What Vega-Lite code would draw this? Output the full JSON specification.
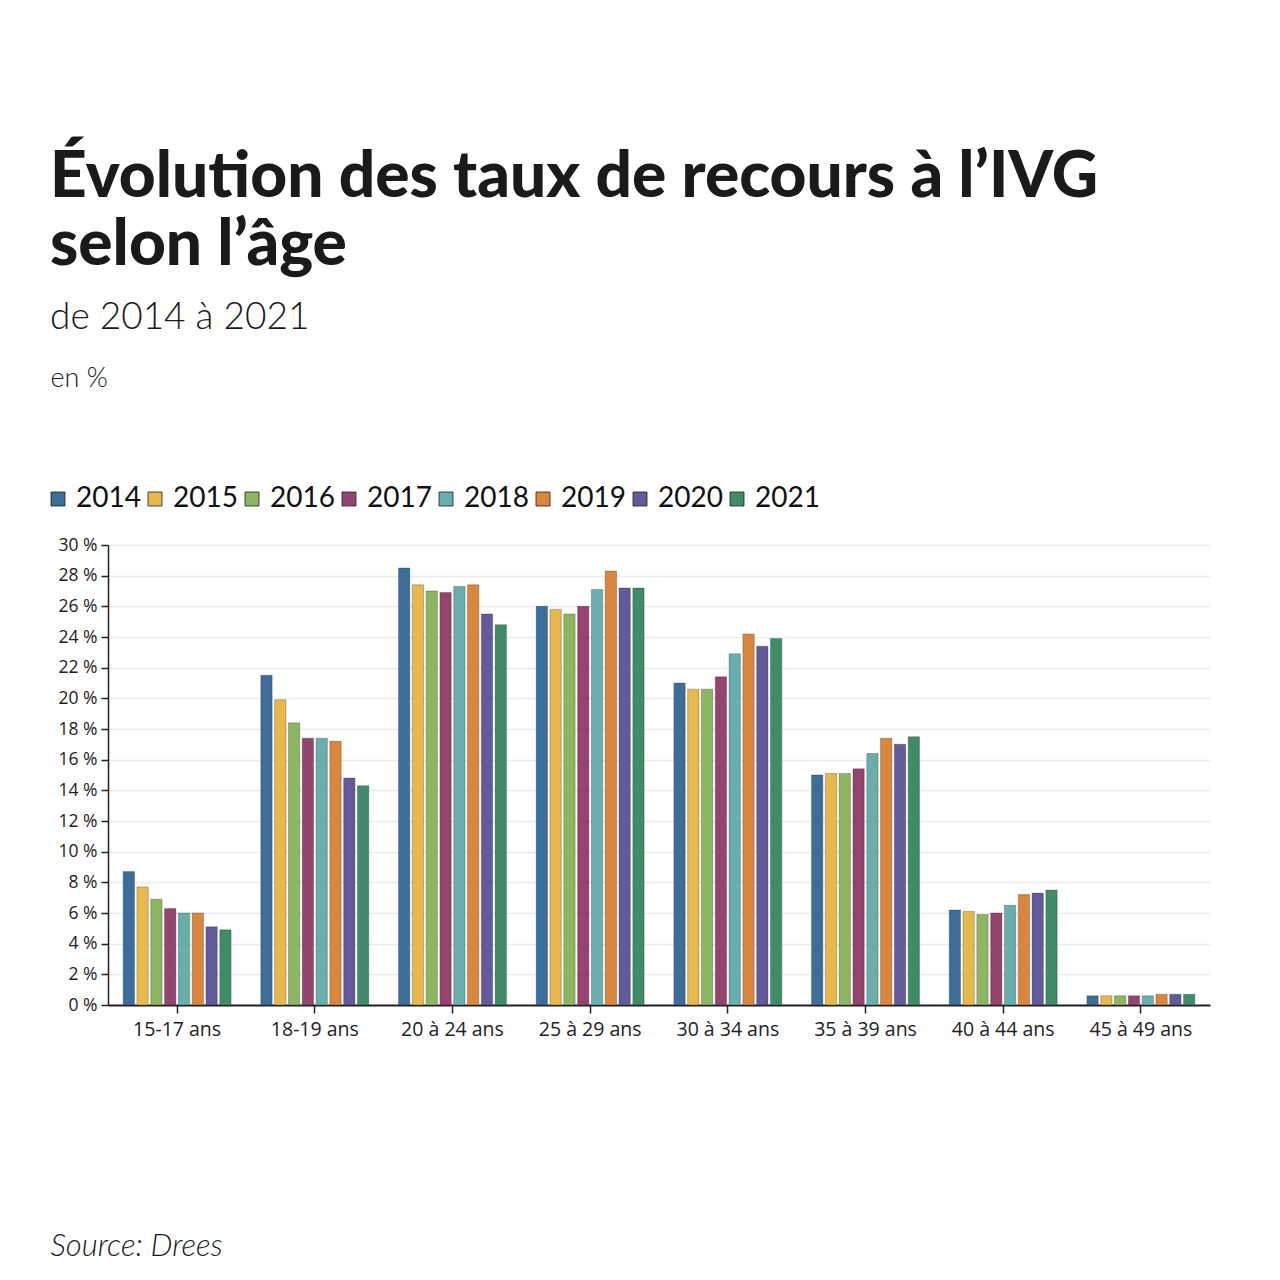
{
  "$schema": "https://vega.github.io/schema/vega-lite/v6.json",
  "autosize": "none",
  "width": 1102,
  "height": 460,
  "padding": {"left": 108, "top": 545, "right": 70, "bottom": 275},
  "background": "white",
  "title": {
    "text": ["Évolution des taux de recours à l’IVG", "selon l’âge"],
    "subtitle": "de 2014 à 2021",
    "anchor": "start",
    "orient": "top",
    "frame": "bounds",
    "dx": 6,
    "font": "Lato",
    "fontSize": 64,
    "fontWeight": 900,
    "lineHeight": 68,
    "color": "#1a1a1a",
    "subtitleFont": "Lato",
    "subtitleFontSize": 37,
    "subtitleFontWeight": 300,
    "subtitleColor": "#1a1a1a",
    "subtitlePadding": 22,
    "offset": 28
  },
  "data": {
    "values": [
      {"age": "15-17 ans", "year": "2014", "v": 8.7},
      {"age": "15-17 ans", "year": "2015", "v": 7.7},
      {"age": "15-17 ans", "year": "2016", "v": 6.9},
      {"age": "15-17 ans", "year": "2017", "v": 6.3},
      {"age": "15-17 ans", "year": "2018", "v": 6.0},
      {"age": "15-17 ans", "year": "2019", "v": 6.0},
      {"age": "15-17 ans", "year": "2020", "v": 5.1},
      {"age": "15-17 ans", "year": "2021", "v": 4.9},
      {"age": "18-19 ans", "year": "2014", "v": 21.5},
      {"age": "18-19 ans", "year": "2015", "v": 19.9},
      {"age": "18-19 ans", "year": "2016", "v": 18.4},
      {"age": "18-19 ans", "year": "2017", "v": 17.4},
      {"age": "18-19 ans", "year": "2018", "v": 17.4},
      {"age": "18-19 ans", "year": "2019", "v": 17.2},
      {"age": "18-19 ans", "year": "2020", "v": 14.8},
      {"age": "18-19 ans", "year": "2021", "v": 14.3},
      {"age": "20 à 24 ans", "year": "2014", "v": 28.5},
      {"age": "20 à 24 ans", "year": "2015", "v": 27.4},
      {"age": "20 à 24 ans", "year": "2016", "v": 27.0},
      {"age": "20 à 24 ans", "year": "2017", "v": 26.9},
      {"age": "20 à 24 ans", "year": "2018", "v": 27.3},
      {"age": "20 à 24 ans", "year": "2019", "v": 27.4},
      {"age": "20 à 24 ans", "year": "2020", "v": 25.5},
      {"age": "20 à 24 ans", "year": "2021", "v": 24.8},
      {"age": "25 à 29 ans", "year": "2014", "v": 26.0},
      {"age": "25 à 29 ans", "year": "2015", "v": 25.8},
      {"age": "25 à 29 ans", "year": "2016", "v": 25.5},
      {"age": "25 à 29 ans", "year": "2017", "v": 26.0},
      {"age": "25 à 29 ans", "year": "2018", "v": 27.1},
      {"age": "25 à 29 ans", "year": "2019", "v": 28.3},
      {"age": "25 à 29 ans", "year": "2020", "v": 27.2},
      {"age": "25 à 29 ans", "year": "2021", "v": 27.2},
      {"age": "30 à 34 ans", "year": "2014", "v": 21.0},
      {"age": "30 à 34 ans", "year": "2015", "v": 20.6},
      {"age": "30 à 34 ans", "year": "2016", "v": 20.6},
      {"age": "30 à 34 ans", "year": "2017", "v": 21.4},
      {"age": "30 à 34 ans", "year": "2018", "v": 22.9},
      {"age": "30 à 34 ans", "year": "2019", "v": 24.2},
      {"age": "30 à 34 ans", "year": "2020", "v": 23.4},
      {"age": "30 à 34 ans", "year": "2021", "v": 23.9},
      {"age": "35 à 39 ans", "year": "2014", "v": 15.0},
      {"age": "35 à 39 ans", "year": "2015", "v": 15.1},
      {"age": "35 à 39 ans", "year": "2016", "v": 15.1},
      {"age": "35 à 39 ans", "year": "2017", "v": 15.4},
      {"age": "35 à 39 ans", "year": "2018", "v": 16.4},
      {"age": "35 à 39 ans", "year": "2019", "v": 17.4},
      {"age": "35 à 39 ans", "year": "2020", "v": 17.0},
      {"age": "35 à 39 ans", "year": "2021", "v": 17.5},
      {"age": "40 à 44 ans", "year": "2014", "v": 6.2},
      {"age": "40 à 44 ans", "year": "2015", "v": 6.1},
      {"age": "40 à 44 ans", "year": "2016", "v": 5.9},
      {"age": "40 à 44 ans", "year": "2017", "v": 6.0},
      {"age": "40 à 44 ans", "year": "2018", "v": 6.5},
      {"age": "40 à 44 ans", "year": "2019", "v": 7.2},
      {"age": "40 à 44 ans", "year": "2020", "v": 7.3},
      {"age": "40 à 44 ans", "year": "2021", "v": 7.5},
      {"age": "45 à 49 ans", "year": "2014", "v": 0.6},
      {"age": "45 à 49 ans", "year": "2015", "v": 0.6},
      {"age": "45 à 49 ans", "year": "2016", "v": 0.6},
      {"age": "45 à 49 ans", "year": "2017", "v": 0.6},
      {"age": "45 à 49 ans", "year": "2018", "v": 0.6},
      {"age": "45 à 49 ans", "year": "2019", "v": 0.7},
      {"age": "45 à 49 ans", "year": "2020", "v": 0.7},
      {"age": "45 à 49 ans", "year": "2021", "v": 0.7}
    ]
  },
  "mark": {"type": "bar", "stroke": "#222", "strokeOpacity": 0.35, "strokeWidth": 0.8},
  "encoding": {
    "x": {
      "field": "age",
      "type": "nominal",
      "sort": null,
      "scale": {"paddingInner": 0.216, "paddingOuter": 0.11},
      "axis": {
        "title": "Source: Drees",
        "titleFont": "Lato",
        "titleFontStyle": "italic",
        "titleFontWeight": 300,
        "titleFontSize": 31,
        "titleColor": "#1a1a1a",
        "titleAnchor": "start",
        "titleAlign": "left",
        "titleBaseline": "alphabetic",
        "titleX": -58,
        "titleY": 250,
        "labelAngle": 0,
        "labelFont": "Open Sans",
        "labelFontSize": 19.5,
        "labelColor": "#222",
        "labelPadding": 7,
        "domainColor": "#222",
        "domainWidth": 2,
        "tickColor": "#222",
        "tickSize": 8,
        "tickWidth": 1.5,
        "grid": false
      }
    },
    "xOffset": {
      "field": "year",
      "type": "nominal",
      "scale": {"paddingInner": 0.18, "paddingOuter": 0}
    },
    "y": {
      "field": "v",
      "type": "quantitative",
      "scale": {"domain": [0, 30]},
      "axis": {
        "values": [0, 2, 4, 6, 8, 10, 12, 14, 16, 18, 20, 22, 24, 26, 28, 30],
        "labelExpr": "datum.value + ' %'",
        "title": "en %",
        "titleFont": "Lato",
        "titleFontWeight": 300,
        "titleFontSize": 27,
        "titleColor": "#1a1a1a",
        "titleAngle": 0,
        "titleAlign": "left",
        "titleBaseline": "alphabetic",
        "titleX": -58,
        "titleY": -159,
        "labelFont": "Open Sans",
        "labelFontSize": 17.5,
        "labelColor": "#222",
        "labelPadding": 4,
        "domainColor": "#222",
        "domainWidth": 1.5,
        "tickColor": "#222",
        "tickSize": 7,
        "tickWidth": 1.5,
        "gridColor": "#ebebeb",
        "gridWidth": 1.5
      }
    },
    "color": {
      "field": "year",
      "type": "nominal",
      "scale": {
        "domain": ["2014", "2015", "2016", "2017", "2018", "2019", "2020", "2021"],
        "range": ["#3b6f99", "#e8b84a", "#8cb660", "#95436f", "#67afae", "#da863b", "#625a9a", "#3f8d67"]
      },
      "legend": {
        "title": null,
        "orient": "none",
        "direction": "horizontal",
        "legendX": -64,
        "legendY": -60,
        "padding": 0,
        "symbolType": "square",
        "symbolSize": 196,
        "symbolStrokeWidth": 0.8,
        "labelFont": "Lato",
        "labelFontSize": 28,
        "labelColor": "#111",
        "labelOffset": 4,
        "columnPadding": 0,
        "symbolOffset": 0
      }
    }
  },
  "config": {"view": {"stroke": null}}
}
